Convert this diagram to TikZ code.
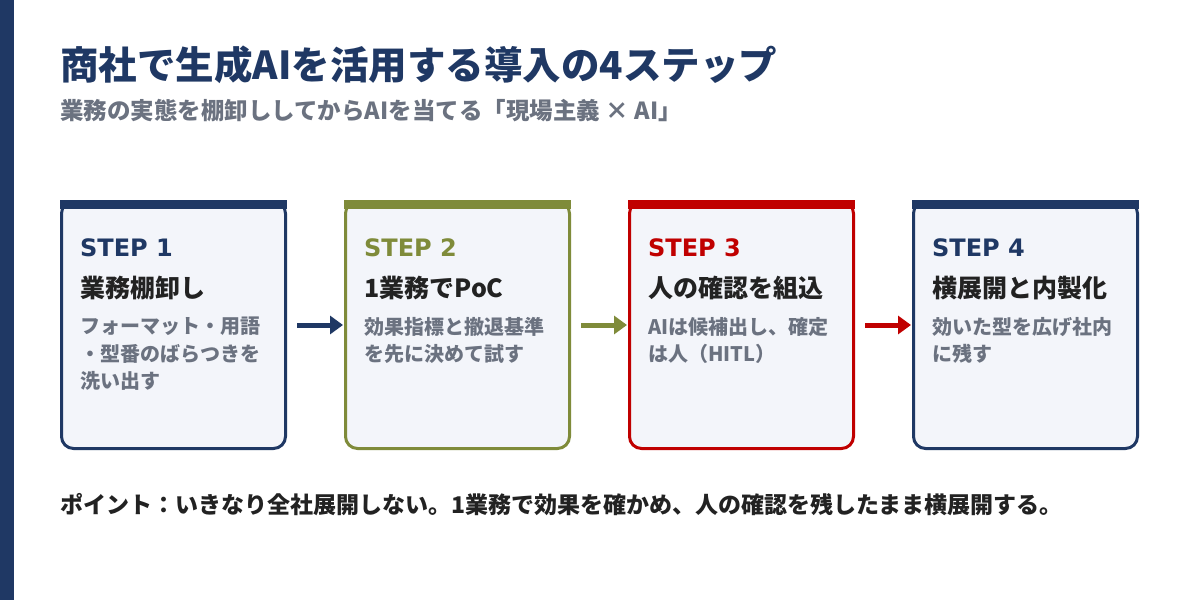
\documentclass[tikz,border=0pt]{standalone}
\usepackage{fontspec}
\setmainfont{Noto Sans CJK JP}
\newfontfamily\stepfont{DejaVu Sans}
\usetikzlibrary{arrows.meta}
\definecolor{stepnavy}{HTML}{1F3864}
\definecolor{stepolive}{HTML}{7F8B3A}
\definecolor{stepred}{HTML}{C00000}
\definecolor{inkgray}{HTML}{6B7280}
\definecolor{inkdark}{HTML}{222222}
\definecolor{cardbg}{HTML}{F3F5FA}
\begin{document}
\begin{tikzpicture}[x=1pt, y=-1pt,
    card/.style={draw=#1, fill=cardbg, line width=3pt, rounded corners=12pt,
      minimum width=224pt, minimum height=247pt},
    steplabel/.style={anchor=base west, inner sep=0pt, text=#1,
      font=\stepfont\bfseries\fontsize{24}{28}\selectfont},
    steptitle/.style={anchor=base west, inner sep=0pt, text=inkdark,
      font=\bfseries\fontsize{25}{29}\selectfont},
    stepdesc/.style={anchor=north west, inner sep=0pt, align=left, text=inkgray,
      font=\bfseries\fontsize{20}{27.5}\selectfont},
    flow/.style={draw=#1, line width=5pt, -{Triangle[length=13pt,width=18pt]},
      shorten <=10pt, shorten >=1pt}]
    \useasboundingbox (0,0) rectangle (1200,600);
    \fill[white] (0,0) rectangle (1200,600);
    \fill[stepnavy] (0,0) rectangle (14,600);

    % heading
    \node[anchor=base west, inner sep=0pt, text=stepnavy, font=\bfseries\fontsize{38.5}{44}\selectfont]
        (title) at (60,79) {商社で生成AIを活用する導入の4ステップ};
    \node[anchor=base west, inner sep=0pt, text=inkgray, font=\bfseries\fontsize{23.5}{27}\selectfont]
        (subtitle) at (60,119.5) {業務の実態を棚卸ししてからAIを当てる「現場主義 × AI」};

    % cards
    \node[card=stepnavy] (s1) at (173.5,325) {};
    \node[card=stepolive] (s2) at (457.5,325) {};
    \node[card=stepred] (s3) at (741.5,325) {};
    \node[card=stepnavy] (s4) at (1025.5,325) {};
    \fill[stepnavy] (s1.north west) rectangle ([yshift=-9pt]s1.north east);
    \fill[stepolive] (s2.north west) rectangle ([yshift=-9pt]s2.north east);
    \fill[stepred] (s3.north west) rectangle ([yshift=-9pt]s3.north east);
    \fill[stepnavy] (s4.north west) rectangle ([yshift=-9pt]s4.north east);

    \node[steplabel=stepnavy] (s1step) at (80,256) {STEP 1};
    \node[steptitle] (s1title) at (80,297) {業務棚卸し};
    \node[stepdesc] (s1desc) at (80,317) {フォーマット・用語\\・型番のばらつきを\\洗い出す};

    \node[steplabel=stepolive] (s2step) at (364,256) {STEP 2};
    \node[steptitle] (s2title) at (364,297) {1業務でPoC};
    \node[stepdesc] (s2desc) at (364,317) {効果指標と撤退基準\\を先に決めて試す};

    \node[steplabel=stepred] (s3step) at (648,256) {STEP 3};
    \node[steptitle] (s3title) at (648,297) {人の確認を組込};
    \node[stepdesc] (s3desc) at (648,317) {AIは候補出し、確定\\は人（HITL）};

    \node[steplabel=stepnavy] (s4step) at (932,256) {STEP 4};
    \node[steptitle] (s4title) at (932,297) {横展開と内製化};
    \node[stepdesc] (s4desc) at (932,317) {効いた型を広げ社内\\に残す};

    % arrows between the steps
    \draw[flow=stepnavy] (s1) -- (s2);
    \draw[flow=stepolive] (s2) -- (s3);
    \draw[flow=stepred] (s3) -- (s4);

    % note
    \node[anchor=base west, inner sep=0pt, text=inkdark, font=\bfseries\fontsize{23}{27}\selectfont]
        (note) at (60,513) {ポイント：いきなり全社展開しない。1業務で効果を確かめ、人の確認を残したまま横展開する。};
\end{tikzpicture}
\end{document}
